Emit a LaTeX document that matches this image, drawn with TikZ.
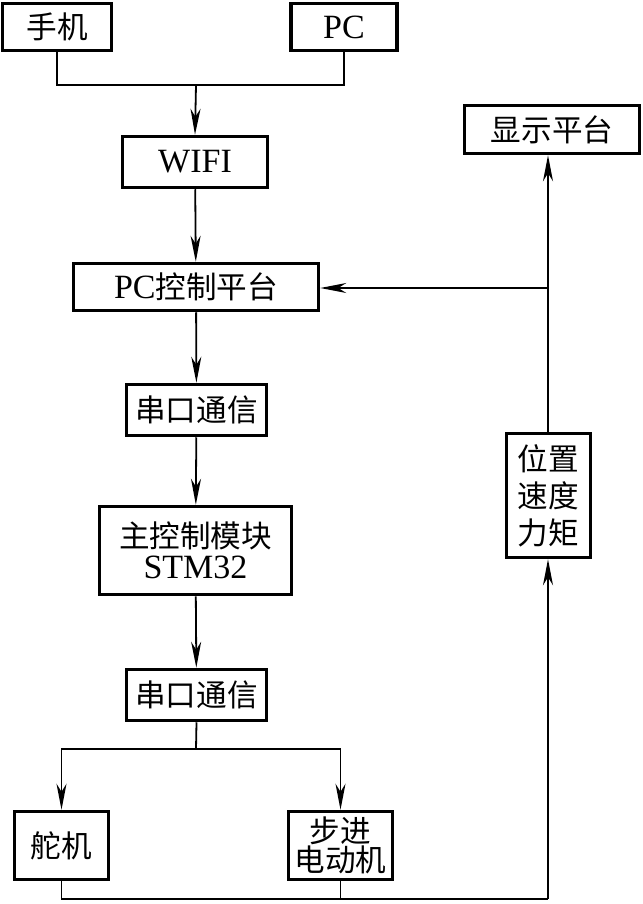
\documentclass[tikz,border=0pt]{standalone}
\usepackage{fontspec}
\setmainfont{Liberation Serif}
\newfontfamily\cjk[Scale=0.9]{Noto Sans CJK SC}
\usetikzlibrary{arrows.meta}
\begin{document}
\begin{tikzpicture}[x=1pt,y=-1pt,
  box/.style={draw,line width=3.5pt,inner sep=0pt,align=center,
    font=\fontsize{34}{31}\selectfont},
  conn/.style={line width=1.8pt},
  arr/.style={line width=1.8pt,-{Stealth[length=26pt,width=10pt,inset=8pt]}}]
\useasboundingbox (0,0) rectangle (642,904);
\node[box,minimum width=109pt,minimum height=47pt] (shouji) at (57,27) {\cjk 手机};
\node[box,minimum width=106pt,minimum height=47pt] (pc) at (344,27) {PC};
\node[box,minimum width=145pt,minimum height=51pt] (wifi) at (195,162) {WIFI};
\node[box,minimum width=245pt,minimum height=47pt] (pcctrl) at (196,287) {PC{\cjk 控制平台}};
\node[box,minimum width=140pt,minimum height=51pt] (serial1) at (196.5,410) {\cjk 串口通信};
\node[box,minimum width=192pt,minimum height=88pt] (mainc) at (195.5,550.5) {{\cjk 主控制模块}\\STM32};
\node[box,minimum width=140pt,minimum height=51pt] (serial2) at (196.5,695) {\cjk 串口通信};
\node[box,minimum width=94pt,minimum height=68pt] (duoji) at (61.5,845.5) {\cjk 舵机};
\node[box,minimum width=104pt,minimum height=68pt,font=\fontsize{34}{29}\selectfont] (stepper) at (340.5,845.5) {\cjk 步进\\\cjk 电动机};
\node[box,minimum width=175pt,minimum height=48pt] (display) at (552,129.5) {\cjk 显示平台};
\node[box,minimum width=84pt,minimum height=124pt,font=\fontsize{34}{37}\selectfont] (pos) at (548.5,495.5) {\cjk 位置\\\cjk 速度\\\cjk 力矩};
\coordinate (j1) at (196,85);
\coordinate (s) at (196,749);
\coordinate (b) at (548,899);
\coordinate (r) at (548,288);
\draw[conn] (shouji.south) |- (j1) -| (pc.south);
\draw[arr] (j1) -- (wifi.north);
\draw[arr] (wifi) -- (pcctrl);
\draw[arr] (pcctrl) -- (serial1);
\draw[arr] (serial1) -- (mainc);
\draw[arr] (mainc) -- (serial2);
\draw[conn] (serial2.south) -- (s);
\draw[arr] (s) -| (duoji.north);
\draw[arr] (s) -| (stepper.north);
\draw[conn] (duoji.south) |- (b);
\draw[conn] (stepper.south) -- (stepper.south |- b);
\draw[arr] (b) -- (b |- pos.south);
\draw[arr] (b |- pos.north) -- (b |- display.south);
\draw[arr] (r) -- (r -| pcctrl.east);
\end{tikzpicture}
\end{document}
